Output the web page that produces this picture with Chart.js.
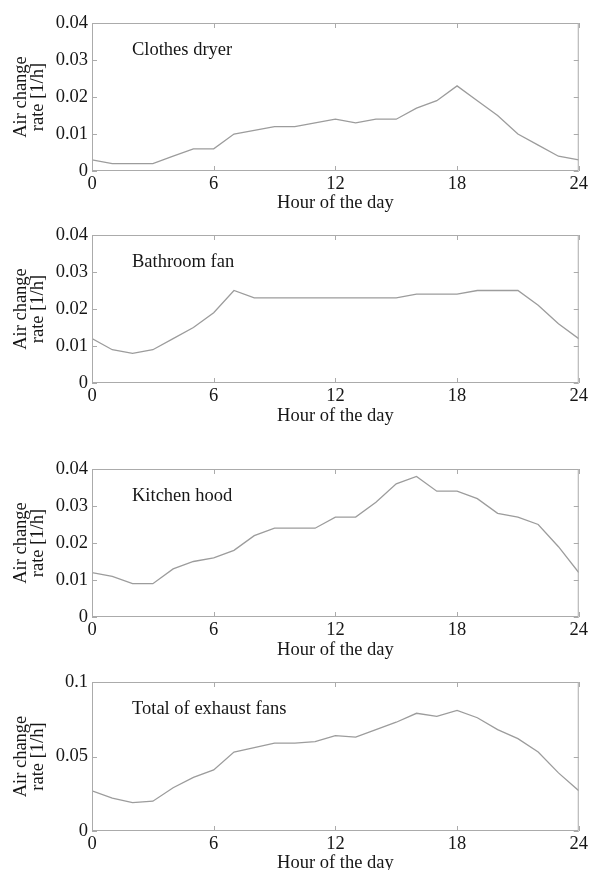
<!DOCTYPE html>
<html>
<head>
<meta charset="utf-8">
<script src="https://cdn.jsdelivr.net/npm/chart.js@4.4.0/dist/chart.umd.min.js"></script>
<style>
  html, body { margin: 0; padding: 0; background: #fff; width: 590px; height: 870px; overflow: hidden; }
  canvas { position: absolute; left: 0; }
</style>
</head>
<body>
<script>
// ---- data ----
const hours = [0,1,2,3,4,5,6,7,8,9,10,11,12,13,14,15,16,17,18,19,20,21,22,23,24];
const dryer   = [0.003,0.002,0.002,0.002,0.004,0.006,0.006,0.010,0.011,0.012,0.012,0.013,0.014,0.013,0.014,0.014,0.017,0.019,0.023,0.019,0.015,0.010,0.007,0.004,0.003];
const bathFan = [0.012,0.009,0.008,0.009,0.012,0.015,0.019,0.025,0.023,0.023,0.023,0.023,0.023,0.023,0.023,0.023,0.024,0.024,0.024,0.025,0.025,0.025,0.021,0.016,0.012];
const kitchen = [0.012,0.011,0.009,0.009,0.013,0.015,0.016,0.018,0.022,0.024,0.024,0.024,0.027,0.027,0.031,0.036,0.038,0.034,0.034,0.032,0.028,0.027,0.025,0.019,0.012];
const total   = [0.027,0.022,0.019,0.020,0.029,0.036,0.041,0.053,0.056,0.059,0.059,0.060,0.064,0.063,0.068,0.073,0.079,0.077,0.081,0.076,0.068,0.062,0.053,0.039,0.027];
const panelTitles = ['Clothes dryer', 'Bathroom fan', 'Kitchen hood', 'Total of exhaust fans'];
const xTickLabels = ['0', '6', '12', '18', '24'];
const yTickLabelsSmall = ['0', '0.01', '0.02', '0.03', '0.04'];
const yTickLabelsTotal = ['0', '0.05', '0.1'];
const yAxisTitle = ['Air change', 'rate [1/h]'];
const xAxisTitle = 'Hour of the day';

const seriesList = [dryer, bathFan, kitchen, total];
const yMaxList = [0.04, 0.04, 0.04, 0.1];
const yStepList = [0.01, 0.01, 0.01, 0.05];
const yLabelList = [yTickLabelsSmall, yTickLabelsSmall, yTickLabelsSmall, yTickLabelsTotal];

// ---- layout (pixels) ----
const layoutList = [
  { top: 0,   chartTop: 23,  chartBottom: 171, titleCenter: 203 },
  { top: 215, chartTop: 235, chartBottom: 383, titleCenter: 416 },
  { top: 445, chartTop: 469, chartBottom: 617, titleCenter: 650 },
  { top: 660, chartTop: 682, chartBottom: 831, titleCenter: 863 }
];
const W = 590, PLOT_LEFT = 92, PLOT_RIGHT = 579;
const FONT = '"Liberation Serif", "Times New Roman", serif';
const FS = 18.5;
const TEXT = '#161616';
const FRAME = '#ababab';
const LINE = '#9c9c9c';

const framePlugin = {
  id: 'frame',
  afterDraw(chart, args, opts) {
    const { ctx, chartArea: a } = chart;
    ctx.save();
    ctx.strokeStyle = FRAME;
    ctx.lineWidth = 1;
    ctx.beginPath();
    ctx.rect(a.left + 0.5, a.top + 0.5, a.right - a.left - 1, a.bottom - a.top - 1);
    ctx.stroke();
    const TL = 5;
    const xs = chart.scales.x, ys = chart.scales.y;
    ctx.beginPath();
    xs.ticks.forEach(t => {
      const px = Math.round(xs.getPixelForValue(t.value)) + 0.5;
      ctx.moveTo(px, a.bottom); ctx.lineTo(px, a.bottom - TL);
      ctx.moveTo(px, a.top); ctx.lineTo(px, a.top + TL);
    });
    ys.ticks.forEach(t => {
      const py = Math.round(ys.getPixelForValue(t.value)) + 0.5;
      ctx.moveTo(a.left, py); ctx.lineTo(a.left + TL, py);
      ctx.moveTo(a.right, py); ctx.lineTo(a.right - TL, py);
    });
    ctx.stroke();
    // panel label
    ctx.fillStyle = TEXT;
    ctx.font = FS + 'px ' + FONT;
    ctx.textBaseline = 'middle';
    ctx.textAlign = 'left';
    ctx.fillText(opts.label, a.left + 40, a.top + 27);
    ctx.restore();
  }
};

seriesList.forEach((series, i) => {
  const L = layoutList[i];
  const bottom = L.titleCenter + 22;
  const height = bottom - L.top;
  const cv = document.createElement('canvas');
  cv.width = W; cv.height = height;
  cv.style.top = L.top + 'px';
  cv.style.width = W + 'px'; cv.style.height = height + 'px';
  document.body.appendChild(cv);
  const xH = bottom - L.chartBottom;
  const yLabels = yLabelList[i];

  new Chart(cv.getContext('2d'), {
    type: 'line',
    data: {
      datasets: [{
        data: hours.map((h, k) => ({ x: h, y: series[k] })),
        borderColor: LINE,
        borderWidth: 1.3,
        pointRadius: 0,
        tension: 0,
        fill: false
      }]
    },
    options: {
      responsive: false,
      animation: false,
      devicePixelRatio: 1,
      layout: { padding: { top: L.chartTop - L.top, right: W - PLOT_RIGHT, bottom: 0, left: 0 } },
      plugins: {
        legend: { display: false },
        tooltip: { enabled: false },
        frame: { label: panelTitles[i] }
      },
      scales: {
        x: {
          type: 'linear',
          min: 0, max: 24,
          grid: { display: false, drawTicks: false },
          border: { display: false },
          ticks: {
            stepSize: 6,
            padding: 2,
            color: TEXT,
            font: { family: FONT, size: FS },
            maxRotation: 0,
            callback: (v, idx) => xTickLabels[idx]
          },
          title: {
            display: true,
            text: xAxisTitle,
            color: TEXT,
            font: { family: FONT, size: FS },
            padding: { top: 0, bottom: 10.9 }
          },
          afterFit: s => { s.height = xH; }
        },
        y: {
          type: 'linear',
          min: 0, max: yMaxList[i],
          grid: { display: false, drawTicks: false },
          border: { display: false },
          ticks: {
            stepSize: yStepList[i],
            padding: 4,
            color: TEXT,
            font: { family: FONT, size: FS },
            callback: (v, idx) => yLabels[idx]
          },
          title: {
            display: true,
            text: yAxisTitle,
            color: TEXT,
            font: { family: FONT, size: FS, lineHeight: 0.92 },
            padding: { top: 12.2, bottom: 0 }
          },
          afterFit: s => { s.width = PLOT_LEFT; }
        }
      }
    },
    plugins: [framePlugin]
  });
});
</script>
</body>
</html>
